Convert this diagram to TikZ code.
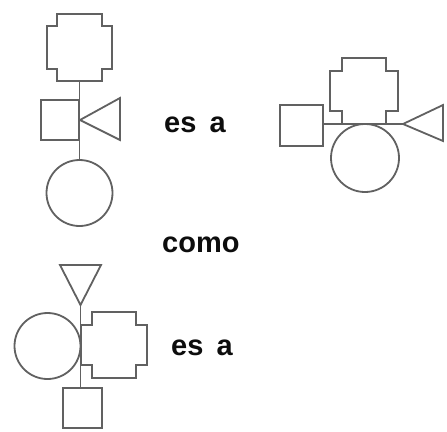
\documentclass[tikz,border=0pt]{standalone}
\usepackage{fontspec}
\setmainfont{Liberation Sans}
\tikzset{
  ln/.style={draw=black!62, line width=1.8pt, line join=miter},
  sq/.style={ln, rectangle, inner sep=0pt, outer sep=0pt},
  circ/.style={ln, circle, inner sep=0pt, outer sep=0pt},
  word/.style={font=\fontsize{29}{34}\selectfont\bfseries, text=black!95, inner sep=0pt, anchor=base west}
}
% cross glyph: x0,y0,x1,y1,nx,ny
\newcommand\crossglyph[6]{%
  \draw[ln] ({#1+#5},{#2}) -- ({#3-#5},{#2}) -- ({#3-#5},{#2+#6}) -- ({#3},{#2+#6})
    -- ({#3},{#4-#6}) -- ({#3-#5},{#4-#6}) -- ({#3-#5},{#4}) -- ({#1+#5},{#4})
    -- ({#1+#5},{#4-#6}) -- ({#1},{#4-#6}) -- ({#1},{#2+#6}) -- ({#1+#5},{#2+#6}) -- cycle;}
\begin{document}
\begin{tikzpicture}[x=1pt,y=-1pt]
\useasboundingbox[fill=white] (0,0) rectangle (447,431);

% ---------- figure 1 ----------
\crossglyph{47}{14}{112}{81}{10}{12}
\coordinate (x1b) at (79.5,81);
\node[sq, minimum width=38pt, minimum height=40pt] (s1) at (60,120) {};
\node[circ, minimum size=66pt] (c1) at (79.5,193) {};
\coordinate (t1a) at (80,120);
\coordinate (t1u) at (120,98);
\coordinate (t1d) at (120,140);
\draw[ln] (t1u) -- (t1a) -- (t1d) -- cycle;
\draw[ln] (x1b) -- (c1.north);

\node[word] (w1) at (164,132) {es\ \hspace{5pt}a};
\node[word] (w2) at (162,252) {como};

% ---------- figure 2 ----------
\node[sq, minimum width=43pt, minimum height=41pt] (s2) at (301.5,125.5) {};
\crossglyph{330}{58}{398}{124}{12}{13}
\node[circ, minimum size=68pt] (c2) at (365,158) {};
\coordinate (t2a) at (403,124);
\coordinate (t2u) at (443,105);
\coordinate (t2d) at (443,141);
\draw[ln] (t2u) -- (t2a) -- (t2d) -- cycle;
\draw[ln] (s2.east |- t2a) -- (t2a);

% ---------- figure 3 ----------
\coordinate (t3a) at (80.5,305);
\coordinate (t3l) at (60,265);
\coordinate (t3r) at (101,265);
\draw[ln] (t3l) -- (t3r) -- (t3a) -- cycle;
\node[circ, minimum size=66pt] (c3) at (47.5,346) {};
\crossglyph{81}{312}{147}{378}{11}{13}
\node[sq, minimum width=39pt, minimum height=40pt] (s3) at (82.5,408) {};
\draw[ln] (t3a) -- (t3a |- s3.north);

\node[word] (w3) at (171,355) {es\ \hspace{5pt}a};
\end{tikzpicture}
\end{document}
